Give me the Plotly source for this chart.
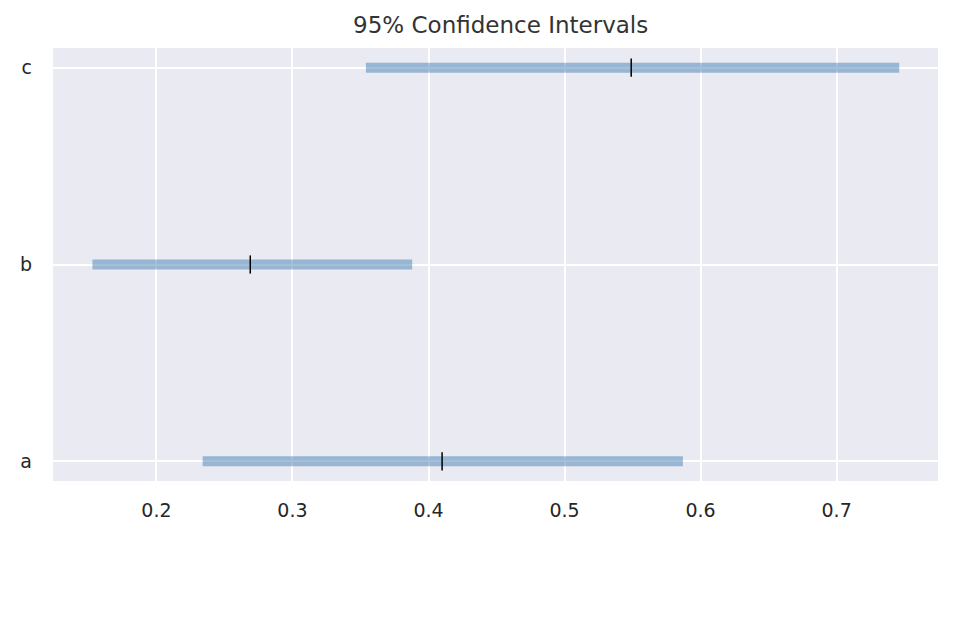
import plotly.graph_objects as go

categories = ["a", "b", "c"]
lower = [0.234, 0.153, 0.354]
upper = [0.587, 0.388, 0.746]
means = [0.41, 0.269, 0.549]

fig = go.Figure()

# interval bars
for cat, lo, hi in zip(categories, lower, upper):
    fig.add_trace(go.Scatter(
        x=[lo, hi], y=[cat, cat], mode="lines",
        line=dict(color="rgba(70,130,180,0.5)", width=10),
        showlegend=False, hoverinfo="skip",
    ))

# mean markers
fig.add_trace(go.Scatter(
    x=means, y=categories, mode="markers",
    marker=dict(symbol="line-ns", size=13, line=dict(color="black", width=1.5)),
    showlegend=False,
))

fig.update_layout(
    width=966, height=630,
    margin=dict(l=40, r=36, t=40, b=157),
    paper_bgcolor="white", plot_bgcolor="#EAEAF2",
    font=dict(family="DejaVu Sans", size=19, color="#262626"),
    title=dict(text="95% Confidence Intervals", x=0.51, xanchor="center",
               y=0.973, yanchor="middle", font=dict(size=23, color="#333333")),
)
fig.update_xaxes(
    range=[0.124, 0.7745], tickvals=[0.2, 0.3, 0.4, 0.5, 0.6, 0.7],
    showgrid=True, gridcolor="white", gridwidth=1.5, zeroline=False,
    showline=False, ticks="", ticklabelstandoff=16,
)
fig.update_yaxes(
    categoryorder="array", categoryarray=categories, range=[-0.1, 2.1],
    showgrid=True, gridcolor="white", gridwidth=1.5, zeroline=False,
    showline=False, ticks="", ticklabelstandoff=20,
)

fig.write_html("out.html")
